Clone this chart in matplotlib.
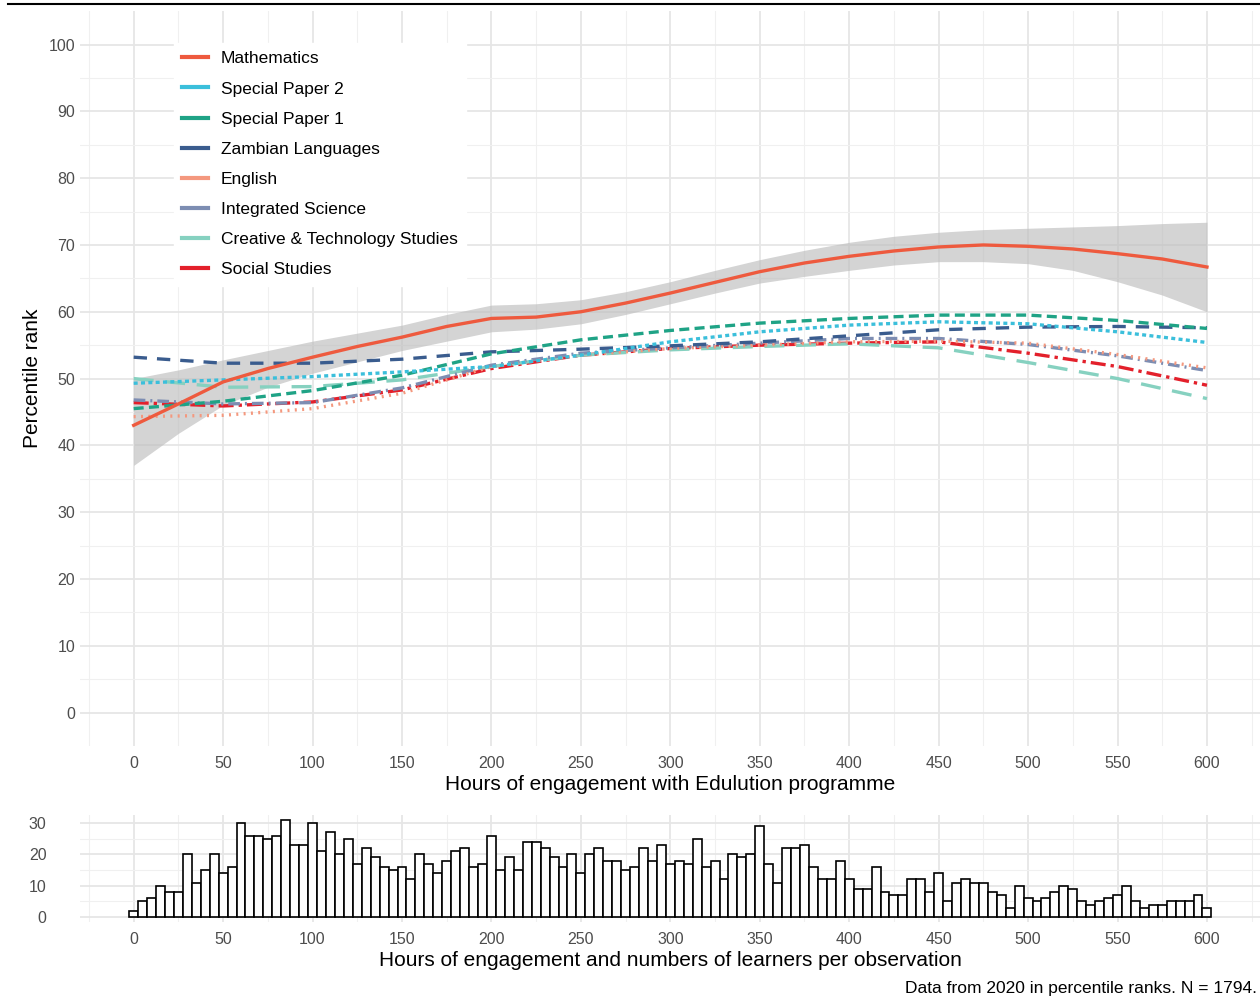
import numpy as np
import matplotlib
matplotlib.use("Agg")
import matplotlib.pyplot as plt
from matplotlib.lines import Line2D

plt.rcParams['font.family'] = ['Liberation Sans', 'DejaVu Sans']

# smoothed percentile rank, every 50 hours
hours = [0, 50, 100, 150, 200, 250, 300, 350, 400, 450, 500, 550, 600]
special2 = [49.3, 49.8, 50.3, 51.0, 51.8, 53.5, 55.5, 57.0, 58.0, 58.5, 58.2, 57.0, 55.4]
special1 = [45.5, 46.6, 48.2, 50.5, 53.7, 55.8, 57.2, 58.3, 59.0, 59.5, 59.5, 58.7, 57.5]
zambian = [53.2, 52.3, 52.3, 52.9, 54.0, 54.4, 54.9, 55.5, 56.4, 57.3, 57.7, 57.8, 57.6]
english = [44.3, 44.5, 45.5, 47.8, 51.8, 53.5, 54.5, 55.0, 55.5, 55.6, 55.3, 53.6, 51.6]
science = [46.8, 46.2, 46.4, 48.6, 52.0, 53.8, 54.6, 55.3, 56.0, 56.0, 55.1, 53.4, 51.2]
creative = [50.0, 48.7, 48.8, 49.8, 51.8, 53.5, 54.3, 54.8, 55.2, 54.6, 52.4, 50.0, 47.0]
social = [46.4, 45.9, 46.5, 48.3, 51.5, 53.5, 54.5, 55.0, 55.3, 55.5, 53.8, 51.8, 49.0]

# mathematics and its band, read every 25 hours
maths_hours = list(range(0, 601, 25))
maths = [43.0, 46.2, 49.5, 51.5, 53.2, 54.8, 56.2, 57.8, 59.0, 59.2, 60.0, 61.3, 62.8,
         64.4, 66.0, 67.3, 68.3, 69.1, 69.7, 70.0, 69.8, 69.4, 68.7, 67.9, 66.7]
maths_hi = [50.0, 51.3, 52.8, 54.2, 55.6, 56.8, 58.0, 59.6, 61.0, 61.2, 61.8, 63.0, 64.5,
            66.2, 67.8, 69.2, 70.4, 71.3, 71.9, 72.3, 72.5, 72.7, 72.9, 73.2, 73.4]
maths_lo = [37.0, 41.8, 46.0, 48.7, 50.8, 52.5, 54.2, 55.6, 57.0, 57.4, 58.2, 59.6, 61.2,
            62.8, 64.3, 65.3, 66.2, 67.0, 67.5, 67.5, 67.2, 66.2, 64.5, 62.5, 60.0]

# learners per 5-hour bin, centres 0..600
bin_centres = list(range(0, 601, 5))
learners = [2, 5, 6, 10, 8, 8, 20, 11, 15, 20, 14, 16, 30, 26, 26, 25, 26, 31, 23, 23,
            30, 21, 27, 20, 25, 17, 22, 19, 16, 15, 16, 12, 20, 17, 14, 18, 21, 22, 16, 17,
            26, 15, 19, 15, 24, 24, 22, 19, 16, 20, 14, 20, 22, 18, 18, 15, 16, 22, 18, 23,
            17, 18, 17, 25, 16, 18, 12, 20, 19, 20, 29, 17, 11, 22, 22, 23, 16, 12, 12, 18,
            12, 9, 9, 16, 8, 7, 7, 12, 12, 8, 14, 5, 11, 12, 11, 11, 8, 7, 3, 10,
            6, 5, 6, 8, 10, 9, 5, 4, 5, 6, 7, 10, 5, 3, 4, 4, 5, 5, 5, 7, 3]

subjects = ["Mathematics", "Special Paper 2", "Special Paper 1", "Zambian Languages",
            "English", "Integrated Science", "Creative & Technology Studies", "Social Studies"]
colours = ["#EE5A3E", "#3BBFDB", "#1FA386", "#3A5C8E", "#F4987E", "#7D8DB2", "#86D1C0", "#E3202B"]
others = [special2, special1, zambian, english, science, creative, social]
dashes = [(1.2, 1.0), (3.0, 1.6), (4.0, 3.0), (0.6, 1.6), (3.5, 1.5, 0.6, 1.5),
          (6.0, 3.5), (4.5, 1.5, 1.0, 1.5)]

grid_major = "#E6E6E6"
grid_minor = "#F0F0F0"
tick_col = "#4D4D4D"

fig = plt.figure(figsize=(12.6, 9.97), dpi=100)
ax = fig.add_axes([0.0635, 0.2518, 0.937, 0.737])
ah = fig.add_axes([0.0635, 0.0752, 0.937, 0.1074])

for a in (ax, ah):
    for s in a.spines.values():
        s.set_visible(False)
    a.tick_params(which="both", length=0, labelsize=11.5, labelcolor=tick_col)
    a.tick_params(axis="x", pad=7)
    a.set_xticks(range(0, 601, 50))
    a.set_xticks(range(-25, 626, 50), minor=True)
    a.grid(True, which="major", color=grid_major, lw=1.3)
    a.grid(True, which="minor", color=grid_minor, lw=0.8)
    a.set_axisbelow(True)
    a.set_xlim(-30, 630)

ax.fill_between(maths_hours, maths_lo, maths_hi, color="#BDBDBD", alpha=0.65, lw=0, zorder=2)
for vals, col, d in zip(others[::-1], colours[1:][::-1], dashes[::-1]):
    ln, = ax.plot(hours, vals, color=col, lw=2.4, zorder=3)
    ln.set_dashes(d)
ax.plot(maths_hours, maths, color=colours[0], lw=2.4, zorder=4)
ax.set_ylim(-5, 105)
ax.set_yticks(range(0, 101, 10))
ax.set_yticks(range(5, 101, 10), minor=True)
ax.set_xlabel("Hours of engagement with Edulution programme", fontsize=15, labelpad=3)
ax.set_ylabel("Percentile rank", fontsize=15, labelpad=5)

handles = [Line2D([0], [0], color=c, lw=3) for c in colours]
leg = ax.legend(handles, subjects, loc="upper left", bbox_to_anchor=(0.072, 0.969),
                fontsize=12.5, handlelength=1.5, handletextpad=0.7, labelspacing=0.86,
                frameon=True, fancybox=False, borderpad=0.5)
leg.get_frame().set_facecolor("white")
leg.get_frame().set_edgecolor("white")
leg.get_frame().set_alpha(1)

ah.bar(bin_centres, learners, width=5, color="white", edgecolor="black", lw=1.2, zorder=3)
ah.set_ylim(-1.55, 32.55)
ah.set_yticks([0, 10, 20, 30])
ah.set_yticks([5, 15, 25], minor=True)
ah.tick_params(axis="y", pad=24)
ah.set_xlabel("Hours of engagement and numbers of learners per observation", fontsize=15, labelpad=3)

fig.text(0.9975, 0.0015, "Data from 2020 in percentile ranks. N = 1794.", ha="right", va="bottom",
         fontsize=12.5)
fig.add_artist(Line2D([0.006, 1.0], [0.9955, 0.9955], color="black", lw=1.5))

fig.savefig("out.png", dpi=100)
